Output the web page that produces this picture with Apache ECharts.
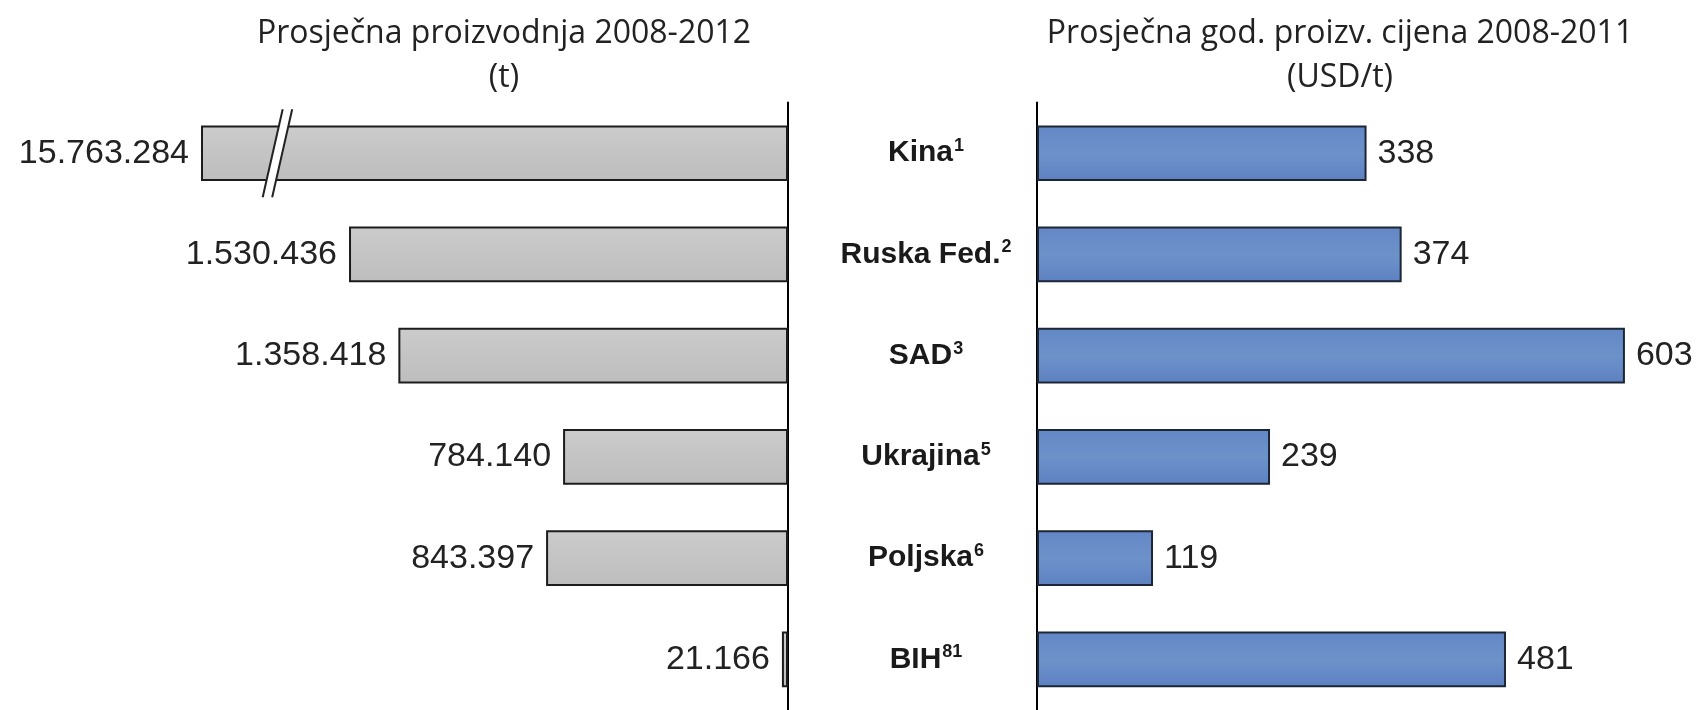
<!DOCTYPE html>
<html>
<head>
<meta charset="utf-8">
<script src="https://cdn.jsdelivr.net/npm/echarts@6.0.0/dist/echarts.min.js"></script>
<style>
  html, body { margin: 0; padding: 0; background: #fff; }
  #chart { width: 1700px; height: 710px; }
</style>
</head>
<body>
<div id="chart"></div>
<script>
// podaci
var categories = ['Kina', 'Ruska Fed.', 'SAD', 'Ukrajina', 'Poljska', 'BIH'];
var notes = ['1', '2', '3', '5', '6', '81'];
var production = [15763284, 1530436, 1358418, 784140, 843397, 21166];   // t
var price = [338, 374, 603, 239, 119, 481];                             // USD/t
var leftAxisMax = 2043000;   // os proizvodnje je prekinuta, Kina ide preko ruba
var breakAt = 1780000;       // mjesto oznake prekida "//"
var rightAxisMax = 680;

var numFont = 'Liberation Sans';
var titleFont = 'Open Sans';

function dots(v) {
  return String(v).replace(/\B(?=(\d{3})+(?!\d))/g, '.');
}

var myChart = echarts.init(document.getElementById('chart'));

var option = {
  backgroundColor: '#fff',
  animation: false,
  graphic: [
    {
      type: 'text', x: 504, y: 12,
      style: {
        text: 'Prosječna proizvodnja 2008-2012\n(t)',
        fontFamily: titleFont, fontSize: 32, lineHeight: 44,
        fill: '#222', align: 'center', verticalAlign: 'top'
      }
    },
    {
      type: 'text', x: 1340, y: 12,
      style: {
        text: 'Prosječna god. proizv. cijena 2008-2011\n(USD/t)',
        fontFamily: titleFont, fontSize: 32, lineHeight: 44,
        fill: '#222', align: 'center', verticalAlign: 'top'
      }
    }
  ],
  grid: [
    { left: 202, right: 912, top: 102.6, height: 610.8 },
    { left: 1037, right: 0, top: 102.6, height: 610.8 }
  ],
  xAxis: [
    { gridIndex: 0, type: 'value', inverse: true, min: 0, max: leftAxisMax, show: false },
    { gridIndex: 1, type: 'value', min: 0, max: rightAxisMax, show: false }
  ],
  yAxis: [
    {
      gridIndex: 0, type: 'category', data: categories, inverse: true,
      position: 'right',
      axisLine: { show: true, lineStyle: { color: '#000', width: 2 } },
      axisTick: { show: false },
      axisLabel: { show: false },
      splitLine: { show: false }
    },
    {
      gridIndex: 1, type: 'category', data: categories, inverse: true,
      position: 'left',
      axisLine: { show: true, lineStyle: { color: '#000', width: 2 } },
      axisTick: { show: false },
      splitLine: { show: false },
      axisLabel: {
        align: 'center',
        margin: 111,
        formatter: function (name, i) {
          return '{b|' + name + '}{s|' + notes[i] + '}';
        },
        rich: {
          b: { fontFamily: numFont, fontWeight: 'bold', fontSize: 30, lineHeight: 34, color: '#1a1a1a' },
          s: { fontFamily: numFont, fontWeight: 'bold', fontSize: 18, lineHeight: 18, color: '#1a1a1a', verticalAlign: 'middle', padding: [0, 0, 14, 1] }
        }
      }
    }
  ],
  series: [
    {
      name: 'Proizvodnja',
      type: 'bar',
      xAxisIndex: 0, yAxisIndex: 0,
      data: production,
      barWidth: '55%',
      clip: true,
      itemStyle: {
        color: new echarts.graphic.LinearGradient(0, 0, 0, 1, [
          { offset: 0, color: '#cccccc' },
          { offset: 0.5, color: '#c4c4c4' },
          { offset: 1, color: '#bdbdbd' }
        ]),
        borderColor: '#1c1c1c',
        borderWidth: 2
      },
      label: {
        show: true,
        position: 'left',
        distance: 12,
        fontFamily: numFont,
        fontSize: 34,
        color: '#222',
        formatter: function (p) { return dots(p.value); }
      }
    },
    {
      name: 'Prekid',
      type: 'custom',
      xAxisIndex: 0, yAxisIndex: 0,
      silent: true,
      z: 5,
      data: [[breakAt, 0]],
      renderItem: function (params, api) {
        var c = api.coord([api.value(0), api.value(1)]);
        var x = c[0], y = c[1];
        var h = 44, dx = 10, gap = 9.5;
        var a0 = [x - gap / 2 - dx, y + h], a1 = [x - gap / 2 + dx, y - h];
        var b0 = [x + gap / 2 - dx, y + h], b1 = [x + gap / 2 + dx, y - h];
        return {
          type: 'group',
          children: [
            { type: 'polygon', shape: { points: [a0, a1, b1, b0] }, style: { fill: '#fff' } },
            { type: 'line', shape: { x1: a0[0], y1: a0[1], x2: a1[0], y2: a1[1] }, style: { stroke: '#222', lineWidth: 2 } },
            { type: 'line', shape: { x1: b0[0], y1: b0[1], x2: b1[0], y2: b1[1] }, style: { stroke: '#222', lineWidth: 2 } }
          ]
        };
      }
    },
    {
      name: 'Cijena',
      type: 'bar',
      xAxisIndex: 1, yAxisIndex: 1,
      data: price,
      barWidth: '55%',
      itemStyle: {
        color: new echarts.graphic.LinearGradient(0, 0, 0, 1, [
          { offset: 0, color: '#6287c5' },
          { offset: 0.5, color: '#6d92ca' },
          { offset: 1, color: '#5d81c1' }
        ]),
        borderColor: '#1d2635',
        borderWidth: 2
      },
      label: {
        show: true,
        position: 'right',
        distance: 11,
        fontFamily: numFont,
        fontSize: 34,
        color: '#222'
      }
    }
  ]
};

myChart.setOption(option);
</script>
</body>
</html>
